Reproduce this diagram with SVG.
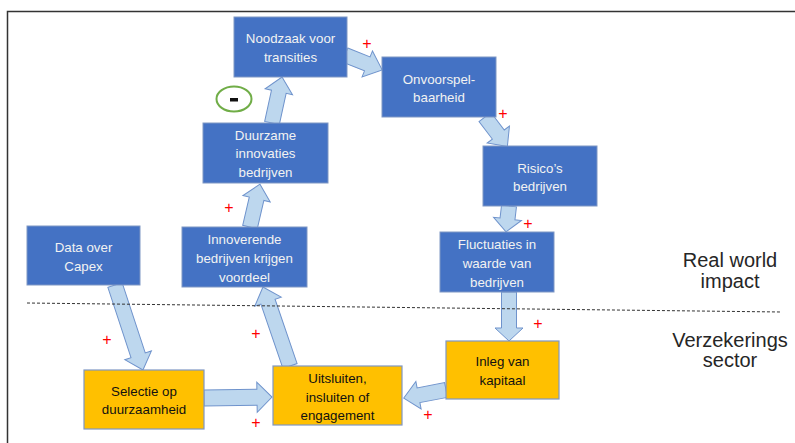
<svg xmlns="http://www.w3.org/2000/svg" width="795" height="443" viewBox="0 0 795 443">
  <style>
    .blue { fill: #4472C4; stroke: #7f97c4; stroke-width: 1; }
    .gold { fill: #FFC000; stroke: #7f97c4; stroke-width: 1.2; }
    .arrow { fill: #BDD7EE; stroke: #6f93cc; stroke-width: 1; }
    .wt { font-family: "Liberation Sans", Arial, sans-serif; font-size: 13.3px; fill: #f2f2f2; text-anchor: middle; }
    .bt { font-family: "Liberation Sans", Arial, sans-serif; font-size: 13.3px; fill: #111111; text-anchor: middle; }
    .plus { font-family: "Liberation Sans", Arial, sans-serif; font-size: 16px; fill: #ff0000; text-anchor: middle; }
    .side { font-family: "Liberation Sans", Arial, sans-serif; font-size: 20px; fill: #262626; text-anchor: middle; }
  </style>

  <rect width="795" height="443" fill="#ffffff"/>

  <!-- frame -->
  <path d="M7.5,443 V11.5 H795" fill="none" stroke="#333333" stroke-width="1.5"/>

  <!-- connectors: block arrows, drawn along +x then placed -->
  <g id="connectors">
    <path class="arrow" transform="translate(272,123) rotate(-77.7)" d="M0,-7.5 H32 V-14 L47,0 L32,14 V7.5 H0 Z"/>
    <path class="arrow" transform="translate(250,227) rotate(-76.9)" d="M0,-7.5 H29 V-14 L44,0 L29,14 V7.5 H0 Z"/>
    <path class="arrow" transform="translate(345,55) rotate(21.8)" d="M0,-7.5 H24 V-14 L40,0 L24,14 V7.5 H0 Z"/>
    <path class="arrow" transform="translate(485,117) rotate(52.8)" d="M0,-7.5 H22 V-14 L37,0 L22,14 V7.5 H0 Z"/>
    <path class="arrow" transform="translate(509,206) rotate(96.6)" d="M0,-7.5 H13 V-14 L26,0 L13,14 V7.5 H0 Z"/>
    <path class="arrow" transform="translate(509,292) rotate(90)" d="M0,-7.5 H36 V-14 L49,0 L36,14 V7.5 H0 Z"/>
    <path class="arrow" transform="translate(446,390) rotate(169.2)" d="M0,-7.5 H28 V-14 L43,0 L28,14 V7.5 H0 Z"/>
    <path class="arrow" transform="translate(204,398) rotate(-0.8)" d="M0,-8 H53 V-15 L68,0 L53,15 V8 H0 Z"/>
    <path class="arrow" transform="translate(290,366) rotate(-108.9)" d="M0,-7.5 H68 V-14 L83.5,0 L68,14 V7.5 H0 Z"/>
    <path class="arrow" transform="translate(115,285) rotate(71.8)" d="M0,-7.5 H74 V-14 L89.5,0 L74,14 V7.5 H0 Z"/>
  </g>

  <!-- nodes -->
  <g id="noodzaak">
    <rect class="blue" x="234" y="17" width="113" height="60"/>
    <text class="wt" x="290.5" y="42.5">Noodzaak voor</text>
    <text class="wt" x="290.5" y="61.5">transities</text>
  </g>
  <g id="onvoorspelbaarheid">
    <rect class="blue" x="382" y="57" width="114" height="60"/>
    <text class="wt" x="439" y="83.5">Onvoorspel-</text>
    <text class="wt" x="439" y="101.5">baarheid</text>
  </g>
  <g id="duurzame">
    <rect class="blue" x="203" y="123" width="125" height="60"/>
    <text class="wt" x="265.5" y="139.5">Duurzame</text>
    <text class="wt" x="265.5" y="157.5">innovaties</text>
    <text class="wt" x="265.5" y="176.5">bedrijven</text>
  </g>
  <g id="risicos">
    <rect class="blue" x="483" y="146" width="114" height="60"/>
    <text class="wt" x="540" y="172.5">Risico’s</text>
    <text class="wt" x="540" y="190.5">bedrijven</text>
  </g>
  <g id="fluctuaties">
    <rect class="blue" x="440" y="232" width="114" height="60"/>
    <text class="wt" x="497" y="248.5">Fluctuaties in</text>
    <text class="wt" x="497" y="267.5">waarde van</text>
    <text class="wt" x="497" y="286.5">bedrijven</text>
  </g>
  <g id="data-capex">
    <rect class="blue" x="27" y="226" width="113" height="59"/>
    <text class="wt" x="83.5" y="251.5">Data over</text>
    <text class="wt" x="83.5" y="270.5">Capex</text>
  </g>
  <g id="innoverende">
    <rect class="blue" x="182" y="227" width="125" height="60"/>
    <text class="wt" x="244.5" y="243.5">Innoverende</text>
    <text class="wt" x="244.5" y="262.5">bedrijven krijgen</text>
    <text class="wt" x="244.5" y="281.5">voordeel</text>
  </g>
  <g id="inleg">
    <rect class="gold" x="446" y="341" width="113" height="58"/>
    <text class="bt" x="502.5" y="365.5">Inleg van</text>
    <text class="bt" x="502.5" y="384.5">kapitaal</text>
  </g>
  <g id="uitsluiten">
    <rect class="gold" x="273" y="366" width="129" height="59"/>
    <text class="bt" x="337.5" y="382.5">Uitsluiten,</text>
    <text class="bt" x="337.5" y="401.5">insluiten of</text>
    <text class="bt" x="337.5" y="419.5">engagement</text>
  </g>
  <g id="selectie">
    <rect class="gold" x="84" y="370" width="120" height="59"/>
    <text class="bt" x="144" y="395.5">Selectie op</text>
    <text class="bt" x="144" y="413.5">duurzaamheid</text>
  </g>

  <!-- boundary between the two domains -->
  <line x1="27" y1="303" x2="781" y2="312" stroke="#333333" stroke-width="1" stroke-dasharray="3,2"/>

  <!-- domain labels -->
  <text class="side" x="730" y="267">Real world</text>
  <text class="side" x="730" y="288">impact</text>
  <text class="side" x="730" y="347">Verzekerings</text>
  <text class="side" x="730" y="367">sector</text>

  <!-- polarity marks -->
  <g id="polarity">
    <text class="plus" x="367" y="49">+</text>
    <text class="plus" x="503" y="119">+</text>
    <text class="plus" x="528" y="229">+</text>
    <text class="plus" x="538" y="329">+</text>
    <text class="plus" x="428" y="420">+</text>
    <text class="plus" x="229" y="213">+</text>
    <text class="plus" x="107" y="345">+</text>
    <text class="plus" x="256" y="339">+</text>
    <text class="plus" x="256" y="428">+</text>
    <ellipse cx="234" cy="99" rx="17.5" ry="12.5" fill="#ffffff" stroke="#70AD47" stroke-width="2"/>
    <rect x="230" y="98" width="8" height="3.5" fill="#111111"/>
  </g>
</svg>
